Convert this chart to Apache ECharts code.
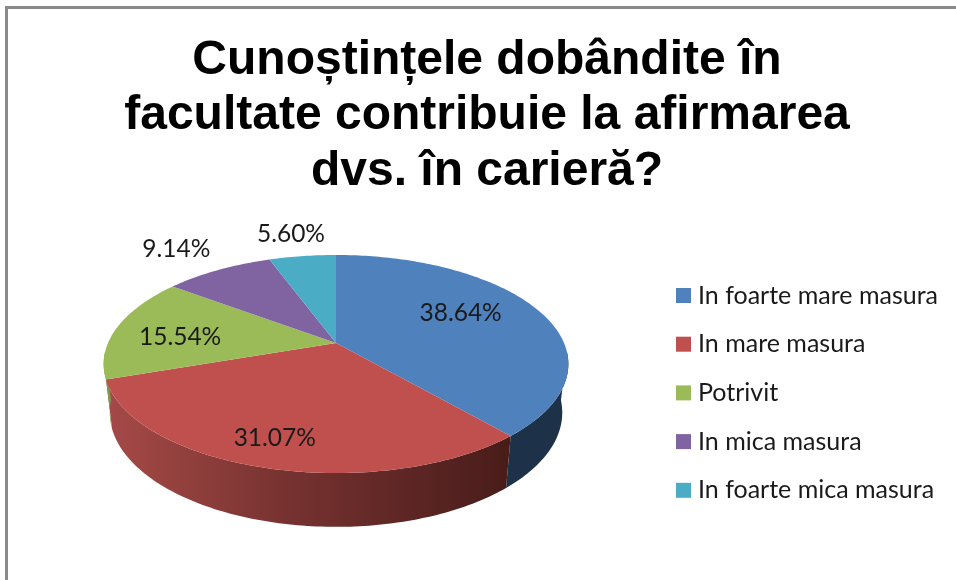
<!DOCTYPE html>
<html><head><meta charset="utf-8">
<style>html,body{margin:0;padding:0;background:#fff}#c{width:956px;height:580px}</style>
<script src="https://cdn.jsdelivr.net/npm/echarts@6/dist/echarts.min.js"></script>
</head><body><div id="c"></div>
<script>
const titleLines = ['Cunoștințele dobândite în', 'facultate contribuie la afirmarea', 'dvs. în carieră?'];
const categories = ['In foarte mare masura', 'In mare masura', 'Potrivit', 'In mica masura', 'In foarte mica masura'];
const shares = [38.64, 31.07, 15.54, 9.14, 5.60];
const palette = ['#4F81BD', '#C0504D', '#9BBB59', '#8064A2', '#4BACC6'];
const labelRadius = [0.653, 0.803, 0.694, 1.374, 1.32];
const labelTurn = [-7.2, 1.5, -4.1, -1.4, -0.7];

const total = shares.reduce((a, b) => a + b, 0);
const persp = 0.1927;
const topPlane = {cx: 336, cy: 343, a: 228, b: 105};
const basePlane = {cx: 336, cy: 390.6, a: 222, b: 110};
const SIDE_FROM = 95, SIDE_TO = 265;

function project(pl, deg, r) {
  const t = deg * Math.PI / 180, u = r * Math.sin(t), d = r * Math.cos(t);
  const s = 1 / (1 + persp * d);
  return [pl.cx + pl.a * u * s, pl.cy - pl.b * d * s];
}
function arc(pl, from, to) {
  const n = Math.max(2, Math.ceil(Math.abs(to - from))), pts = [];
  for (let i = 0; i <= n; i++) pts.push(project(pl, from + (to - from) * i / n, 1));
  return pts;
}
function sideFill(i) {
  if (i === 1) return new echarts.graphic.LinearGradient(0, 0, 1, 0, [
    {offset: 0, color: '#A5484A'}, {offset: 0.08, color: '#9E4643'},
    {offset: 0.45, color: '#763230'}, {offset: 1, color: '#481C1A'}]);
  return ['#1D3249', '', '#7F9A48', '#4E3D63', '#2E6A7A'][i];
}
function renderSlice(params, api) {
  const i = params.seriesIndex;
  const from = api.value(0) / total * 360, to = from + api.value(1) / total * 360;
  const children = [];
  const sf = Math.max(from, SIDE_FROM), st = Math.min(to, SIDE_TO);
  if (st > sf) {
    const pts = arc(topPlane, sf, st).concat(arc(basePlane, st, sf));
    children.push({type: 'polygon', z2: 1, shape: {points: pts},
      style: {fill: sideFill(i)}});
  }
  const top = [[topPlane.cx, topPlane.cy]].concat(arc(topPlane, from, to));
  children.push({type: 'polygon', z2: 2, shape: {points: top}, style: {fill: palette[i]}});
  const at = project(topPlane, (from + to) / 2 + labelTurn[i], labelRadius[i]);
  children.push({type: 'text', z2: 3, x: at[0], y: at[1], style: {
    text: api.value(1).toFixed(2) + '%', fill: '#1a1a1a',
    font: '24.5px Lato', textAlign: 'center', textVerticalAlign: 'middle'}});
  return {type: 'group', children};
}

let running = 0;
const series = categories.map((name, i) => {
  const item = [running, shares[i]];
  running += shares[i];
  return {name, type: 'custom', coordinateSystem: 'none', silent: true, animation: false,
    itemStyle: {color: palette[i]}, renderItem: renderSlice, data: [item], clip: false};
});

const chart = echarts.init(document.getElementById('c'), null, {renderer: 'canvas'});
chart.setOption({
  backgroundColor: '#fff',
  animation: false,
  title: {
    text: titleLines.join('\n'), left: 482, top: 28, textAlign: 'center',
    textStyle: {fontFamily: 'Liberation Sans', fontWeight: 'bold', fontSize: 48, lineHeight: 55.5, color: '#000'}
  },
  legend: {
    orient: 'vertical', left: 671, top: 278, itemWidth: 15, itemHeight: 15, itemGap: 23.7,
    icon: 'rect', selectedMode: false, data: categories,
    textStyle: {fontFamily: 'Lato', fontSize: 25, lineHeight: 15, color: '#1a1a1a', padding: [0, 0, 0, 2]}
  },
  graphic: [
    {type: 'rect', silent: true, shape: {x: 5, y: 6, width: 3, height: 574}, style: {fill: '#8a8a8a'}},
    {type: 'rect', silent: true, shape: {x: 5, y: 6, width: 951, height: 3}, style: {fill: '#8a8a8a'}}
  ],
  series
});
</script></body></html>
